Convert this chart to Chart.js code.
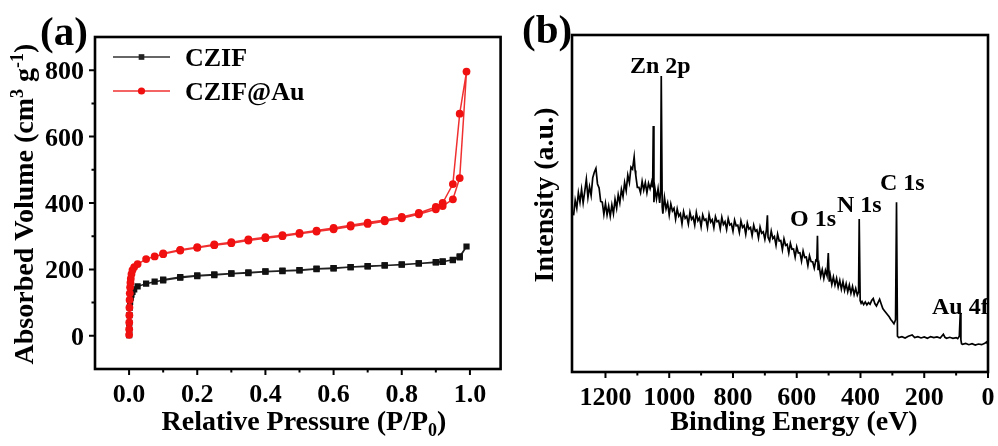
<!DOCTYPE html>
<html>
<head>
<meta charset="utf-8">
<script src="https://cdn.jsdelivr.net/npm/chart.js@4.4.1/dist/chart.umd.min.js"></script>
<style>
    html, body { margin: 0; padding: 0; background: #fff; }
    #wrap { position: relative; width: 998px; height: 446px; overflow: hidden; }
    canvas { position: absolute; top: 0; }
    #chart-a { left: 0; }
    #chart-b { left: 500px; }
</style>
</head>
<body>
<div id="wrap">
    <canvas id="chart-a" width="505" height="446"></canvas>
    <canvas id="chart-b" width="498" height="446"></canvas>
</div>
<script>
// ---- (a) N2 isotherms: adsorption branch then desorption branch ----
const czifP = [0.0001, 0.0003, 0.0005, 0.001, 0.002, 0.003, 0.005, 0.007, 0.01, 0.015,
    0.025, 0.05, 0.075, 0.1, 0.15, 0.2, 0.25, 0.3, 0.35, 0.4,
    0.45, 0.5, 0.55, 0.6, 0.65, 0.7, 0.75, 0.8, 0.85, 0.9,
    0.92, 0.95, 0.97, 0.99,
    0.97, 0.95, 0.92, 0.9, 0.85, 0.8, 0.75, 0.7, 0.65, 0.6,
    0.55, 0.5, 0.45, 0.4, 0.35, 0.3, 0.25, 0.2, 0.15, 0.1];
const czifV = [2, 18, 38, 62, 85, 102, 115, 124, 132, 140,
    149, 157, 163, 167, 175, 180, 183, 187, 189, 193,
    195, 197, 201, 203, 207, 209, 212, 214, 218, 221,
    223, 229, 239, 269,
    236, 228, 224, 222, 218, 215, 212, 210, 207, 204,
    202, 198, 196, 194, 191, 188, 185, 182, 177, 169];

const czifAuP = [0.0001, 0.0003, 0.0005, 0.0008, 0.001, 0.0015, 0.002, 0.003, 0.004, 0.005,
    0.007, 0.01, 0.015, 0.025, 0.05, 0.075, 0.1, 0.15, 0.2, 0.25,
    0.3, 0.35, 0.4, 0.45, 0.5, 0.55, 0.6, 0.65, 0.7, 0.75,
    0.8, 0.85, 0.9, 0.92, 0.95, 0.97, 0.99,
    0.97, 0.95, 0.92, 0.9, 0.85, 0.8, 0.75, 0.7, 0.65, 0.6,
    0.55, 0.5, 0.45, 0.4, 0.35, 0.3, 0.25, 0.2, 0.15, 0.1];
const czifAuV = [3, 20, 40, 62, 85, 108, 128, 146, 160, 172,
    186, 198, 207, 216, 231, 239, 246, 257, 265, 273,
    279, 287, 294, 300, 307, 314, 321, 329, 337, 345,
    354, 366, 381, 391, 411, 475, 796,
    669, 457, 400, 388, 370, 358, 349, 341, 333, 325,
    317, 310, 303, 297, 290, 282, 275, 267, 259, 248];

const pressureTicks = [0, 0.2, 0.4, 0.6, 0.8, 1.0];
const pressureMinor = [0.1, 0.3, 0.5, 0.7, 0.9];
const volumeTicks = [0, 200, 400, 600, 800];
const volumeMinor = [100, 300, 500, 700];

// ---- (b) XPS survey spectrum (binding energy in eV, intensity in a.u.) ----
const xpsEnergy = [
    1300, 1295, 1290, 1285, 1280, 1275, 1270, 1265, 1260, 1255,
    1250, 1245, 1240, 1235, 1230, 1225, 1220, 1215, 1210, 1205,
    1200, 1195, 1190, 1185, 1180, 1175, 1170, 1165, 1160, 1155,
    1150, 1145, 1140, 1135, 1130, 1125, 1120, 1115, 1110, 1107,
    1105, 1100, 1095, 1090, 1085, 1080, 1075, 1070, 1065, 1060,
    1055, 1052, 1050, 1048, 1045, 1040, 1035, 1030, 1027, 1025,
    1022, 1020, 1015, 1010, 1005, 1000, 995, 990, 985, 980,
    975, 970, 965, 960, 955, 950, 945, 940, 935, 930,
    925, 920, 915, 910, 905, 900, 895, 890, 885, 880,
    875, 870, 865, 860, 855, 850, 845, 840, 835, 830,
    825, 820, 815, 810, 805, 800, 795, 790, 785, 780,
    775, 770, 765, 760, 755, 750, 745, 740, 735, 730,
    725, 720, 715, 710, 705, 700, 695, 692, 690, 685,
    680, 675, 670, 665, 660, 655, 650, 645, 640, 635,
    630, 625, 620, 615, 610, 605, 600, 595, 590, 585,
    580, 575, 570, 565, 560, 555, 550, 545, 540, 537,
    535, 533, 530, 525, 520, 515, 510, 505, 501, 498,
    495, 490, 485, 480, 475, 470, 465, 460, 455, 450,
    445, 440, 435, 430, 425, 420, 415, 410, 406, 404,
    401, 398, 395, 390, 385, 380, 375, 370, 365, 360,
    355, 350, 345, 340, 335, 330, 325, 320, 315, 310,
    305, 300, 295, 290, 287, 284, 280, 270, 260, 250,
    238, 230, 220, 210, 200, 190, 180, 170, 160, 150,
    140, 135, 130, 120, 110, 100, 95, 90, 87, 85,
    83, 80, 70, 60, 50, 40, 30, 20, 10, 5,
    0];
const xpsIntensity = [
    46.5, 51.0, 48.6, 53.2, 50.4, 54.2, 50.2, 53.6, 57.2, 51.8,
    55.0, 52.4, 57.6, 59.3, 60.4, 55.8, 54.6, 50.6, 50.4, 46.8,
    50.0, 46.6, 49.2, 46.2, 49.6, 47.0, 51.2, 48.6, 52.6, 50.2,
    54.2, 52.0, 56.2, 53.8, 58.4, 56.2, 60.8, 60.2, 63.8, 59.8,
    58.4, 54.8, 54.8, 53.2, 56.6, 54.0, 56.2, 53.2, 56.0, 54.4,
    56.4, 54.8, 73.0, 50.4, 54.6, 51.4, 54.4, 50.2, 53.6, 87.8,
    49.0, 47.0, 51.8, 48.4, 50.2, 46.6, 49.9, 47.8, 48.6, 45.4,
    48.4, 46.2, 47.0, 44.0, 47.6, 45.6, 46.2, 43.9, 47.4, 45.3,
    46.0, 43.6, 47.3, 44.9, 45.8, 43.1, 46.6, 45.0, 45.4, 42.9,
    46.7, 44.5, 45.2, 42.8, 46.1, 44.6, 44.9, 42.5, 45.9, 43.8,
    44.6, 42.3, 45.5, 43.6, 44.0, 41.8, 45.1, 43.4, 43.6, 41.4,
    44.8, 42.9, 43.5, 40.9, 44.2, 42.4, 42.9, 40.5, 43.6, 41.8,
    42.2, 39.8, 43.0, 41.2, 41.6, 39.4, 42.2, 46.5, 40.0, 38.9,
    41.8, 39.6, 40.2, 37.6, 40.9, 38.9, 39.0, 36.3, 39.5, 37.6,
    37.9, 35.3, 38.2, 36.4, 36.5, 34.1, 37.1, 35.3, 35.4, 32.9,
    35.9, 34.0, 34.1, 31.6, 34.5, 32.8, 32.7, 30.8, 33.2, 33.0,
    40.4, 30.2, 31.8, 28.4, 30.4, 27.8, 30.2, 28.6, 35.3, 26.8,
    28.8, 26.0, 28.2, 25.8, 27.8, 25.2, 27.2, 24.6, 26.8, 24.2,
    26.2, 23.8, 25.8, 23.4, 25.4, 23.0, 24.8, 22.8, 23.8, 45.4,
    21.2, 20.4, 20.9, 20.0, 20.8, 19.9, 20.6, 20.1, 21.2, 21.8,
    20.3, 19.6, 20.6, 21.6, 20.2, 18.8, 18.2, 17.6, 17.0, 16.4,
    15.6, 15.0, 14.3, 15.5, 50.4, 10.6, 10.2, 10.5, 10.1, 10.6,
    11.0, 10.2, 10.5, 10.1, 10.4, 10.0, 10.5, 10.2, 10.4, 10.1,
    11.2, 10.3, 10.0, 10.3, 10.0, 10.2, 9.9, 10.6, 17.5, 9.5,
    8.4, 8.2, 8.5, 8.1, 8.4, 8.0, 8.3, 8.1, 8.5, 8.9,
    8.2];

const energyTicks = [1200, 1000, 800, 600, 400, 200, 0];
const energyMinor = [1100, 900, 700, 500, 300, 100];

const SERIF = '"Liberation Serif", "Times New Roman", serif';
const font = size => 'bold ' + size + 'px ' + SERIF;

function toPoints(xs, ys) {
    return xs.map((x, i) => ({ x: x, y: ys[i] }));
}

// text with sub/superscript parts: [[text, 'sup' | 'sub' | null], ...]
function drawRich(ctx, parts, x, y, size, align) {
    const small = Math.round(size * 0.64);
    let total = 0;
    const widths = parts.map(([t, kind]) => {
        ctx.font = font(kind ? small : size);
        const w = ctx.measureText(t).width;
        total += w;
        return w;
    });
    let cx = align === 'center' ? x - total / 2 : (align === 'right' ? x - total : x);
    ctx.textAlign = 'left';
    ctx.textBaseline = 'alphabetic';
    parts.forEach(([t, kind], i) => {
        ctx.font = font(kind ? small : size);
        const dy = kind === 'sup' ? -size * 0.36 : (kind === 'sub' ? size * 0.2 : 0);
        ctx.fillText(t, cx, y + dy);
        cx += widths[i];
    });
}

function drawFrameAndTicks(chart, xMajor, xMinor, yMajor, yMinor) {
    const { ctx, chartArea: a } = chart;
    const xs = chart.scales.x, ys = chart.scales.y;
    ctx.strokeStyle = '#000';
    ctx.lineWidth = 2;
    ctx.beginPath();
    xMajor.forEach(v => { const p = xs.getPixelForValue(v); ctx.moveTo(p, a.bottom); ctx.lineTo(p, a.bottom + 6); });
    xMinor.forEach(v => { const p = xs.getPixelForValue(v); ctx.moveTo(p, a.bottom); ctx.lineTo(p, a.bottom + 3.5); });
    yMajor.forEach(v => { const p = ys.getPixelForValue(v); ctx.moveTo(a.left, p); ctx.lineTo(a.left - 6, p); });
    yMinor.forEach(v => { const p = ys.getPixelForValue(v); ctx.moveTo(a.left, p); ctx.lineTo(a.left - 3.5, p); });
    ctx.stroke();
    ctx.lineWidth = 2.6;
    ctx.strokeRect(a.left, a.top, a.right - a.left, a.bottom - a.top);
}

// Panel (a) decorations
const isothermDecor = {
    id: 'isothermDecor',
    afterDraw(chart) {
        const { ctx, chartArea: a } = chart;
        const xs = chart.scales.x, ys = chart.scales.y;
        ctx.save();
        drawFrameAndTicks(chart, pressureTicks, pressureMinor, volumeTicks, volumeMinor);
        ctx.fillStyle = '#000';
        ctx.font = font(26);
        ctx.textBaseline = 'alphabetic';
        ctx.textAlign = 'center';
        pressureTicks.forEach(v => ctx.fillText(v.toFixed(1), xs.getPixelForValue(v), a.bottom + 33));
        ctx.textAlign = 'right';
        volumeTicks.forEach(v => ctx.fillText(String(v), a.left - 11, ys.getPixelForValue(v) + 9));

        drawRich(ctx, [['Relative Pressure (P/P', null], ['0', 'sub'], [')', null]], 304, 430, 28, 'center');

        ctx.save();
        ctx.translate(33, 204);
        ctx.rotate(-Math.PI / 2);
        drawRich(ctx, [['Absorbed Volume (cm', null], ['3', 'sup'], [' g', null], ['-1', 'sup'], [')', null]], 0, 0, 28, 'center');
        ctx.restore();

        ctx.font = font(41);
        ctx.textAlign = 'left';
        ctx.fillText('(a)', 40, 45);

        // legend
        const rows = [
            { label: 'CZIF', color: '#222', line: '#333', style: 'rect', r: 4, y: 57 },
            { label: 'CZIF@Au', color: '#f01010', line: '#f03030', style: 'circle', r: 3.6, y: 91 }
        ];
        rows.forEach(row => {
            ctx.strokeStyle = row.line;
            ctx.lineWidth = 1.5;
            ctx.beginPath();
            ctx.moveTo(113, row.y);
            ctx.lineTo(170, row.y);
            ctx.stroke();
            ctx.fillStyle = row.color;
            Chart.helpers.drawPoint(ctx, { pointStyle: row.style, radius: row.r, rotation: 0, borderWidth: 0 }, 141.5, row.y);
            ctx.fillStyle = '#000';
            ctx.font = font(26);
            ctx.fillText(row.label, 185, row.y + 9);
        });
        ctx.restore();
    }
};

// Panel (b) decorations
const xpsDecor = {
    id: 'xpsDecor',
    afterDraw(chart) {
        const { ctx, chartArea: a } = chart;
        const xs = chart.scales.x;
        ctx.save();
        ctx.fillStyle = '#000';
        ctx.font = font(24);
        ctx.textAlign = 'left';
        ctx.textBaseline = 'alphabetic';
        ctx.fillText('Zn 2p', 130, 73);
        ctx.fillText('O 1s', 290, 226);
        ctx.fillText('N 1s', 337, 212);
        ctx.fillText('C 1s', 380, 190);
        ctx.fillText('Au 4f', 432, 314);

        drawFrameAndTicks(chart, energyTicks, energyMinor, [], []);
        ctx.font = font(26);
        ctx.textAlign = 'center';
        energyTicks.forEach(v => ctx.fillText(String(v), xs.getPixelForValue(v), a.bottom + 33));

        drawRich(ctx, [['Binding Energy (eV)', null]], 294, 430, 28, 'center');
        ctx.save();
        ctx.translate(53, 195);
        ctx.rotate(-Math.PI / 2);
        drawRich(ctx, [['Intensity (a.u.)', null]], 0, 0, 28, 'center');
        ctx.restore();

        ctx.font = font(41);
        ctx.textAlign = 'left';
        ctx.fillText('(b)', 22, 43);
        ctx.restore();
    }
};

const hiddenScale = (min, max, reverse) => ({
    type: 'linear', display: false, min: min, max: max, reverse: !!reverse
});

new Chart(document.getElementById('chart-a'), {
    type: 'scatter',
    data: {
        datasets: [{
            label: 'CZIF',
            data: toPoints(czifP, czifV),
            showLine: true,
            borderColor: '#222',
            backgroundColor: '#111',
            borderWidth: 1.5,
            pointStyle: 'rect',
            pointRadius: 4.4,
            pointBorderWidth: 0,
            order: 1
        }, {
            label: 'CZIF@Au',
            data: toPoints(czifAuP, czifAuV),
            showLine: true,
            borderColor: '#f03030',
            backgroundColor: '#f01010',
            borderWidth: 1.5,
            pointStyle: 'circle',
            pointRadius: 3.9,
            pointBorderWidth: 0,
            order: 0
        }]
    },
    options: {
        responsive: false,
        devicePixelRatio: 1,
        animation: false,
        layout: { padding: { left: 95, right: 4, top: 37, bottom: 77 } },
        scales: { x: hiddenScale(-0.1, 1.09), y: hiddenScale(-100, 900) },
        plugins: { legend: { display: false }, tooltip: { enabled: false } }
    },
    plugins: [isothermDecor]
});

new Chart(document.getElementById('chart-b'), {
    type: 'scatter',
    data: {
        datasets: [{
            label: 'XPS',
            data: toPoints(xpsEnergy, xpsIntensity),
            showLine: true,
            borderColor: '#000',
            borderWidth: 1.7,
            pointRadius: 0
        }]
    },
    options: {
        responsive: false,
        devicePixelRatio: 1,
        animation: false,
        layout: { padding: { left: 72, right: 10, top: 35, bottom: 74 } },
        scales: { x: hiddenScale(0, 1305, true), y: hiddenScale(0, 100) },
        plugins: { legend: { display: false }, tooltip: { enabled: false } }
    },
    plugins: [xpsDecor]
});
</script>
</body>
</html>
